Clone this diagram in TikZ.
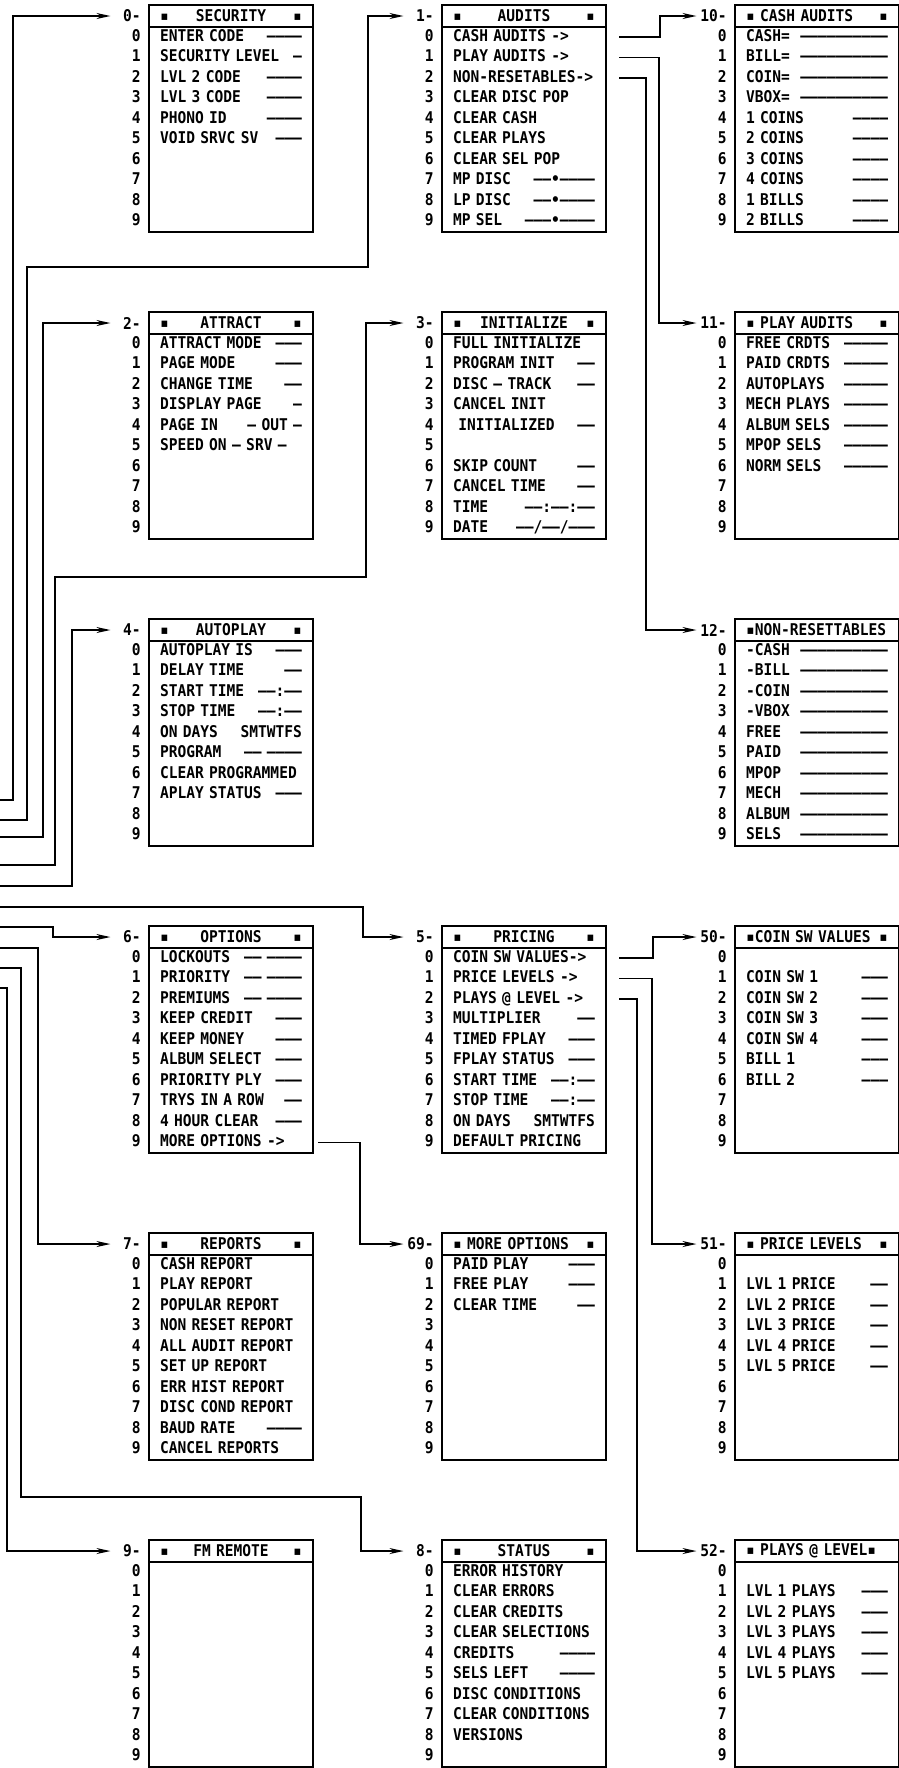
\documentclass[tikz,border=0pt]{standalone}
\usepackage{fontspec}
\newfontfamily\lcd{DejaVu Sans Mono}[FakeStretch=0.9]
\usetikzlibrary{arrows.meta,positioning,calc}

\begin{document}
\begin{tikzpicture}[
    x=0.25mm, y=-0.25mm,
    node distance=20mm and 32.25mm,
    font=\lcd\bfseries\fontsize{11.5}{14.58}\selectfont,
    % Menu boxes
    head/.style={rectangle, draw, line width=1.1pt, outer sep=0pt, minimum width=41mm, minimum height=5.5mm, text width=35.5mm, inner xsep=2.75mm, inner ysep=0pt, align=left},
    body/.style={rectangle, draw, line width=1.1pt, outer sep=0pt, minimum width=41mm, minimum height=51.25mm, text width=35.5mm, inner xsep=2.75mm, inner ysep=0pt, align=left, execute at begin node=\strut\ignorespaces, execute at end node=\strut},
    % Row numbers and menu numbers
    idx/.style={text width=3mm, inner sep=0pt, align=right, execute at begin node=\strut\ignorespaces, execute at end node=\strut},
    tag/.style={text width=7mm, inner xsep=0.5mm, align=right},
    % Links
    link/.style={line width=1.1pt, -{Stealth[length=3.5mm,width=1.5mm]}}
]
\useasboundingbox (0,0) rectangle (899,1768);

% Row 1
\node[head, anchor=north west] (sec-h) at (149,5) {▪\hfill SECURITY\hfill▪};
\node[body, below=0pt of sec-h] (sec-b) {
    ENTER CODE\hfill————\\
    SECURITY LEVEL\hfill—\\
    LVL 2 CODE\hfill————\\
    LVL 3 CODE\hfill————\\
    PHONO ID\hfill————\\
    VOID SRVC SV\hfill———\\
    ~\\ ~\\ ~\\ ~
};
\node[head, right=of sec-h] (aud-h) {▪\hfill AUDITS\hfill▪};
\node[body, below=0pt of aud-h] (aud-b) {
    CASH AUDITS ->\\
    PLAY AUDITS ->\\
    NON-RESETABLES->\\
    CLEAR DISC POP\\
    CLEAR CASH\\
    CLEAR PLAYS\\
    CLEAR SEL POP\\
    MP DISC\hfill——•————\\
    LP DISC\hfill——•————\\
    MP SEL\hfill———•————
};
\node[head, right=of aud-h] (cash-h) {▪ CASH AUDITS\hfill▪};
\node[body, below=0pt of cash-h] (cash-b) {
    CASH=\hfill——————————\\
    BILL=\hfill——————————\\
    COIN=\hfill——————————\\
    VBOX=\hfill——————————\\
    1 COINS\hfill————\\
    2 COINS\hfill————\\
    3 COINS\hfill————\\
    4 COINS\hfill————\\
    1 BILLS\hfill————\\
    2 BILLS\hfill————
};

% Row 2
\node[head, below=of sec-b] (att-h) {▪\hfill ATTRACT\hfill▪};
\node[body, below=0pt of att-h] (att-b) {
    ATTRACT MODE\hfill———\\
    PAGE MODE\hfill———\\
    CHANGE TIME\hfill——\\
    DISPLAY PAGE\hfill—\\
    PAGE IN\hfill— OUT —\\
    SPEED ON — SRV —\\
    ~\\ ~\\ ~\\ ~
};
\node[head, right=of att-h] (ini-h) {▪\hfill INITIALIZE\hfill▪};
\node[body, below=0pt of ini-h] (ini-b) {
    FULL INITIALIZE\\
    PROGRAM INIT\hfill——\\
    DISC — TRACK\hfill——\\
    CANCEL INIT\\
    \ INITIALIZED\hfill——\\
    ~\\
    SKIP COUNT\hfill——\\
    CANCEL TIME\hfill——\\
    TIME\hfill——:——:——\\
    DATE\hfill——/——/———
};
\node[head, right=of ini-h] (play-h) {▪ PLAY AUDITS\hfill▪};
\node[body, below=0pt of play-h] (play-b) {
    FREE CRDTS\hfill—————\\
    PAID CRDTS\hfill—————\\
    AUTOPLAYS\hfill—————\\
    MECH PLAYS\hfill—————\\
    ALBUM SELS\hfill—————\\
    MPOP SELS\hfill—————\\
    NORM SELS\hfill—————\\
    ~\\ ~\\ ~
};

% Row 3
\node[head, below=of att-b] (auto-h) {▪\hfill AUTOPLAY\hfill▪};
\node[body, below=0pt of auto-h] (auto-b) {
    AUTOPLAY IS\hfill———\\
    DELAY TIME\hfill——\\
    START TIME\hfill——:——\\
    STOP TIME\hfill——:——\\
    ON DAYS\hfill SMTWTFS\\
    PROGRAM\hfill—— ————\\
    CLEAR PROGRAMMED\\
    APLAY STATUS\hfill———\\
    ~\\ ~
};
\node[head, below=of play-b] (nonres-h) {▪NON-RESETTABLES};
\node[body, below=0pt of nonres-h] (nonres-b) {
    -CASH\hfill——————————\\
    -BILL\hfill——————————\\
    -COIN\hfill——————————\\
    -VBOX\hfill——————————\\
    FREE\hfill——————————\\
    PAID\hfill——————————\\
    MPOP\hfill——————————\\
    MECH\hfill——————————\\
    ALBUM\hfill——————————\\
    SELS\hfill——————————
};

% Row 4
\node[head, below=of auto-b] (opt-h) {▪\hfill OPTIONS\hfill▪};
\node[body, below=0pt of opt-h] (opt-b) {
    LOCKOUTS\hfill—— ————\\
    PRIORITY\hfill—— ————\\
    PREMIUMS\hfill—— ————\\
    KEEP CREDIT\hfill———\\
    KEEP MONEY\hfill———\\
    ALBUM SELECT\hfill———\\
    PRIORITY PLY\hfill———\\
    TRYS IN A ROW\hfill——\\
    4 HOUR CLEAR\hfill———\\
    MORE OPTIONS ->
};
\node[head, right=of opt-h] (pri-h) {▪\hfill PRICING\hfill▪};
\node[body, below=0pt of pri-h] (pri-b) {
    COIN SW VALUES->\\
    PRICE LEVELS ->\\
    PLAYS @ LEVEL ->\\
    MULTIPLIER\hfill——\\
    TIMED FPLAY\hfill———\\
    FPLAY STATUS\hfill———\\
    START TIME\hfill——:——\\
    STOP TIME\hfill——:——\\
    ON DAYS\hfill SMTWTFS\\
    DEFAULT PRICING
};
\node[head, right=of pri-h] (coin-h) {▪COIN SW VALUES\hfill▪};
\node[body, below=0pt of coin-h] (coin-b) {
    ~\\
    COIN SW 1\hfill———\\
    COIN SW 2\hfill———\\
    COIN SW 3\hfill———\\
    COIN SW 4\hfill———\\
    BILL 1\hfill———\\
    BILL 2\hfill———\\
    ~\\ ~\\ ~
};

% Row 5
\node[head, below=of opt-b] (rep-h) {▪\hfill REPORTS\hfill▪};
\node[body, below=0pt of rep-h] (rep-b) {
    CASH REPORT\\
    PLAY REPORT\\
    POPULAR REPORT\\
    NON RESET REPORT\\
    ALL AUDIT REPORT\\
    SET UP REPORT\\
    ERR HIST REPORT\\
    DISC COND REPORT\\
    BAUD RATE\hfill————\\
    CANCEL REPORTS
};
\node[head, right=of rep-h] (more-h) {▪ MORE OPTIONS\hfill▪};
\node[body, below=0pt of more-h] (more-b) {
    PAID PLAY\hfill———\\
    FREE PLAY\hfill———\\
    CLEAR TIME\hfill——\\
    ~\\ ~\\ ~\\ ~\\ ~\\ ~\\ ~
};
\node[head, right=of more-h] (plev-h) {▪ PRICE LEVELS\hfill▪};
\node[body, below=0pt of plev-h] (plev-b) {
    ~\\
    LVL 1 PRICE\hfill——\\
    LVL 2 PRICE\hfill——\\
    LVL 3 PRICE\hfill——\\
    LVL 4 PRICE\hfill——\\
    LVL 5 PRICE\hfill——\\
    ~\\ ~\\ ~\\ ~
};

% Row 6
\node[head, below=of rep-b] (fm-h) {▪\hfill FM REMOTE\hfill▪};
\node[body, below=0pt of fm-h] (fm-b) {~\\ ~\\ ~\\ ~\\ ~\\ ~\\ ~\\ ~\\ ~\\ ~};
\node[head, right=of fm-h] (stat-h) {▪\hfill STATUS\hfill▪};
\node[body, below=0pt of stat-h] (stat-b) {
    ERROR HISTORY\\
    CLEAR ERRORS\\
    CLEAR CREDITS\\
    CLEAR SELECTIONS\\
    CREDITS\hfill————\\
    SELS LEFT\hfill————\\
    DISC CONDITIONS\\
    CLEAR CONDITIONS\\
    VERSIONS\\
    ~
};
\node[head, right=of stat-h] (plays-h) {▪ PLAYS @ LEVEL▪};
\node[body, below=0pt of plays-h] (plays-b) {
    ~\\
    LVL 1 PLAYS\hfill———\\
    LVL 2 PLAYS\hfill———\\
    LVL 3 PLAYS\hfill———\\
    LVL 4 PLAYS\hfill———\\
    LVL 5 PLAYS\hfill———\\
    ~\\ ~\\ ~\\ ~
};

% Menu numbers and row numbers
\foreach \m/\n in {sec/0, aud/1, cash/10, att/2, ini/3, play/11, auto/4, nonres/12, opt/6, pri/5, coin/50, rep/7, more/69, plev/51, fm/9, stat/8, plays/52} {
    \node[tag, left=1.5mm of \m-h] (\m-t) {\n-};
    \node[idx, left=2mm of \m-b] (\m-d) {0\\1\\2\\3\\4\\5\\6\\7\\8\\9};
}

% Lines coming in from the left edge
\coordinate (in-sec) at (0,800);
\coordinate (in-aud) at (0,820);
\coordinate (in-att) at (0,837);
\coordinate (in-ini) at (0,865);
\coordinate (in-auto) at (0,886);
\coordinate (in-pri) at (0,907);
\coordinate (in-opt) at (0,927);
\coordinate (in-rep) at (0,948);
\coordinate (in-stat) at (0,968);
\coordinate (in-fm) at (0,988);

% Sub-menu exits
\coordinate (aud-x0) at ($(aud-b.north east)+(13,10)$);
\coordinate (aud-x1) at ($(aud-b.north east)+(13,30.5)$);
\coordinate (aud-x2) at ($(aud-b.north east)+(13,51)$);
\coordinate (pri-x0) at ($(pri-b.north east)+(13,10)$);
\coordinate (pri-x1) at ($(pri-b.north east)+(13,30.5)$);
\coordinate (pri-x2) at ($(pri-b.north east)+(13,51)$);
\coordinate (opt-x9) at ($(opt-b.north east)+(5,194.5)$);

\draw[link] (in-sec) -- ++(13,0) |- (sec-t.west);
\draw[link] (in-aud) -- ++(27,0) -- ++(0,-553) -- ++(341,0) |- (aud-t.west);
\draw[link] (in-att) -- ++(43,0) |- (att-t.west);
\draw[link] (in-ini) -- ++(55,0) -- ++(0,-288) -- ++(311,0) |- (ini-t.west);
\draw[link] (in-auto) -- ++(72,0) |- (auto-t.west);
\draw[link] (in-pri) -- ++(363,0) |- (pri-t.west);
\draw[link] (in-opt) -- ++(53,0) |- (opt-t.west);
\draw[link] (in-rep) -- ++(38,0) |- (rep-t.west);
\draw[link] (in-stat) -- ++(21,0) -- ++(0,529) -- ++(340,0) |- (stat-t.west);
\draw[link] (in-fm) -- ++(7,0) |- (fm-t.west);

\draw[link] (aud-x0) -- ++(41,0) |- (cash-t.west);
\draw[link] (aud-x1) -- ++(40,0) |- (play-t.west);
\draw[link] (aud-x2) -- ++(27,0) |- (nonres-t.west);
\draw[link] (pri-x0) -- ++(34,0) |- (coin-t.west);
\draw[link] (pri-x1) -- ++(33,0) |- (plev-t.west);
\draw[link] (pri-x2) -- ++(18,0) |- (plays-t.west);
\draw[link] (opt-x9) -- ++(42,0) |- (more-t.west);

\end{tikzpicture}
\end{document}
